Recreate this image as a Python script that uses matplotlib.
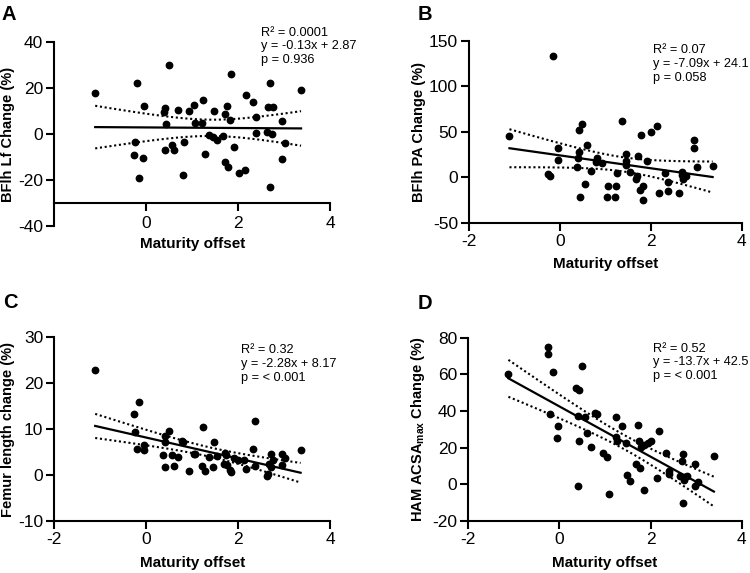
import numpy as np
import matplotlib
matplotlib.use("Agg")
import matplotlib.pyplot as plt

plt.rcParams['font.family'] = ['Liberation Sans', 'DejaVu Sans']
plt.rcParams['mathtext.fontset'] = 'custom'
plt.rcParams['mathtext.rm'] = 'Liberation Sans'
plt.rcParams['mathtext.bf'] = 'Liberation Sans:bold'
plt.rcParams['axes.unicode_minus'] = False

# ---------------- data ----------------
xa = [-1.11, -0.21, 0.49, 1.85, 2.70, 3.37, -0.04, 0.41, 0.38, 0.43, 0.69, 0.94, 1.03, 1.23, 1.07, 1.22,
      1.47, 1.76, 1.72, 1.83, 2.18, 2.32, 2.39, 2.66, 2.77, 2.96, 2.39, 2.63, 2.73, 3.03, 2.96, 2.70,
      -0.25, -0.26, -0.06, -0.15, 0.41, 0.57, 0.61, 0.82, 0.79, 1.27, 1.37, 1.45, 1.53, 1.67, 1.92,
      1.72, 1.78, 2.01, 2.14]
ya = [17.7, 22.1, 30.1, 26.0, 22.1, 19.3, 12.4, 11.3, 9.5, 4.2, 10.3, 10.0, 12.8, 15.0, 4.7, 4.8,
      10.2, 12.2, 8.6, 6.1, 16.9, 14.0, 7.6, 11.8, 11.9, 5.8, 0.6, 0.9, 0.0, -4.1, -10.8, -23.0,
      -3.3, -9.3, -10.5, -19.2, -6.8, -4.8, -7.0, -3.6, -18.0, -8.7, -0.6, -1.2, -2.8, -1.0, -5.8,
      -12.4, -14.3, -17.2, -15.7]

xb = [-1.11, -0.15, -0.26, -0.21, -0.04, -0.04, 0.41, 0.48, 0.42, 0.40, 0.37, 0.44, 0.60, 0.56, 0.68,
      0.82, 0.79, 0.93, 1.06, 1.03, 1.21, 1.23, 1.26, 1.36, 1.45, 1.45, 1.46, 1.54, 1.67, 1.69,
      1.72, 1.78, 1.76, 1.83, 1.82, 1.91, 2.00, 2.13, 2.18, 2.31, 2.38, 2.38, 2.62, 2.69, 2.68,
      2.71, 2.78, 2.95, 2.95, 3.02, 3.36]
yb = [45.9, 134, 4.0, 1.8, 32.3, 19.1, 52.1, 58.7, 27.5, 21.7, 11.7, -22.0, 35.2, -7.0, 7.3,
      21.7, 16.5, 15.8, -9.2, -22.0, -21.3, -9.9, 5.1, 62.4, 26.1, 18.3, 13.2, 6.2, -1.5, 1.5,
      23.1, 47.0, -13.9, -9.2, -25.3, 18.0, 50.3, 56.5, -16.9, 5.1, -5.5, -14.7, -17.2, 5.9, 2.2,
      -2.2, 1.5, 41.1, 31.9, 11.0, 12.1]

xc = [-1.11, -0.26, -0.15, -0.25, -0.21, -0.05, -0.04, 0.49, 0.41, 0.42, 0.37, 0.41, 0.57, 0.60, 0.69,
      0.78, 0.81, 0.94, 1.03, 1.07, 1.23, 1.22, 1.27, 1.36, 1.47, 1.45, 1.53, 1.71, 1.73, 1.69,
      1.76, 1.83, 1.84, 1.92, 2.00, 2.12, 2.18, 2.32, 2.37, 2.37, 2.63, 2.65, 2.71, 2.68, 2.76,
      2.96, 3.02, 2.96, 3.36, 2.71]
yc = [22.8, 13.3, 16.0, 9.3, 5.7, 6.6, 5.5, 9.5, 8.6, 7.3, 4.3, 1.7, 4.3, 2.0, 3.9,
      7.4, 7.1, 0.9, 4.6, 4.5, 10.5, 2.0, 0.9, 3.9, 7.1, 1.7, 4.1, 4.9, 4.4, 2.5,
      2.2, 1.2, 0.6, 3.7, 3.3, 3.2, 1.3, 5.7, 11.8, 2.0, -0.1, 0.3, 4.6, 2.4, 3.3,
      4.5, 3.8, 2.2, 5.4, 1.7]

xd = [-1.12, -0.26, -0.26, -0.14, 0.49, 0.37, 0.42, -0.21, -0.04, -0.05, 0.40, 0.57, 0.61, 0.43, 0.70,
      0.41, 0.78, 0.83, 0.95, 1.04, 1.08, 1.25, 1.24, 1.27, 1.37, 1.47, 1.73, 1.74, 1.79, 1.86,
      1.94, 2.02, 2.19, 1.68, 1.77, 1.48, 1.55, 1.85, 2.15, 2.34, 2.40, 2.40, 2.72, 2.70, 2.65,
      2.74, 2.80, 2.74, 2.98, 3.05, 2.98, 2.72, 3.39]
yd = [60.2, 74.9, 71.3, 61.1, 64.5, 52.4, 51.5, 38.5, 32.0, 25.3, 37.5, 36.5, 28.2, 23.6, 20.5,
      -1.1, 39.1, 38.2, 16.9, 14.7, -5.5, 36.9, 26.0, 23.8, 31.8, 22.4, 32.2, 23.5, 20.5, 21.6,
      22.4, 23.5, 28.9, 10.9, 8.9, 4.9, 2.0, -2.9, 3.6, 16.9, 7.5, 5.8, 16.4, 12.7, 4.7,
      4.0, 4.7, 2.5, 11.1, 1.5, -1.1, -10.4, 15.5]

slopes = [-0.13, -7.09, -2.28, -13.7]
intercepts = [2.87, 24.1, 8.17, 42.5]
r2_labels = ["0.0001", "0.07", "0.32", "0.52"]
p_labels = ["0.936", "0.058", "< 0.001", "< 0.001"]
panel_letters = ["A", "B", "C", "D"]
ylabels = ["BFlh Lf Change (%)", "BFlh PA Change (%)", "Femur length change (%)",
           r"HAM ACSA$_{\mathbf{max}}$ Change (%)"]
xlabel = "Maturity offset"
yticks = [[-40, -20, 0, 20, 40], [-50, 0, 50, 100, 150], [-10, 0, 10, 20, 30], [-20, 0, 20, 40, 60, 80]]
xticks = [[0, 2, 4], [-2, 0, 2, 4], [-2, 0, 2, 4], [-2, 0, 2, 4]]
T_CRIT = 2.01

W, H = 750, 573
fig = plt.figure(figsize=(7.5, 5.73), dpi=100)

# axes rectangles in pixels: left, right, top, bottom
rects_px = [(54.3, 330.0, 42.3, 225.7), (469.0, 741.7, 41.0, 222.7),
            (54.3, 330.0, 337.3, 521.0), (468.3, 741.7, 337.7, 521.0)]
xlabel_y = [-0.06, -0.19, -0.19, -0.19]
ylabel_x = [-0.142, -0.158, -0.142, -0.152]
letter_pos = [(2, 20), (418, 19.5), (3, 308), (418, 309)]
text_pos = [(261, 35.7, 13.5), (653.3, 52.7, 14), (240.7, 353.3, 13.8), (653.3, 351.7, 13.8)]

datasets = [(xa, ya), (xb, yb), (xc, yc), (xd, yd)]

for i, (xv, yv) in enumerate(datasets):
    l, r, t, b = rects_px[i]
    ax = fig.add_axes([l / W, 1 - b / H, (r - l) / W, (b - t) / H])
    x = np.array(xv)
    y = np.array(yv)
    m, c = slopes[i], intercepts[i]
    xs = np.linspace(x.min(), x.max(), 120)
    yhat = m * xs + c
    n = len(x)
    resid = y - (m * x + c)
    s = np.sqrt(np.sum(resid ** 2) / (n - 2))
    sxx = np.sum((x - x.mean()) ** 2)
    se = s * np.sqrt(1.0 / n + (xs - x.mean()) ** 2 / sxx)
    ax.plot(x, y, 'o', color='black', ms=4.6, mec='black', zorder=3, clip_on=False)
    ax.plot(xs, yhat, '-', color='black', lw=1.6, zorder=2)
    ax.plot(xs, yhat + T_CRIT * se, color='black', lw=1.5, ls=(0, (1, 1.3)), zorder=2)
    ax.plot(xs, yhat - T_CRIT * se, color='black', lw=1.5, ls=(0, (1, 1.3)), zorder=2)

    ax.set_xlim(-2, 4)
    ax.set_ylim(yticks[i][0], yticks[i][-1])
    ax.set_xticks(xticks[i])
    ax.set_yticks(yticks[i])
    for sp in ['top', 'right']:
        ax.spines[sp].set_visible(False)
    for sp in ['left', 'bottom']:
        ax.spines[sp].set_linewidth(1.5)
    if i == 0:
        ax.spines['bottom'].set_position(('data', -30))
    ax.tick_params(axis='both', length=5.5, width=1.5, labelsize=12.5, color='black', pad=2.5)
    if i == 0:
        ax.tick_params(axis='x', pad=4)
    ax.set_xlabel(xlabel, fontsize=11, fontweight='bold')
    ax.set_ylabel(ylabels[i], fontsize=10.5, fontweight='bold')
    ax.xaxis.set_label_coords(0.5, xlabel_y[i])
    ax.yaxis.set_label_coords(ylabel_x[i], 0.5)
    ax.patch.set_alpha(0)

    lx, ly = letter_pos[i]
    fig.text(lx / W, 1 - ly / H, panel_letters[i], fontsize=14.5, fontweight='bold', va='baseline', ha='left')
    tx, ty, dy = text_pos[i]
    lines = ["R\u00b2 = " + r2_labels[i],
             "y = %gx + %g" % (m, c),
             "p = " + p_labels[i]]
    for k, s_line in enumerate(lines):
        fig.text(tx / W, 1 - (ty + k * dy) / H, s_line, fontsize=9.2, va='baseline', ha='left')

fig.savefig("out.png", dpi=100)
